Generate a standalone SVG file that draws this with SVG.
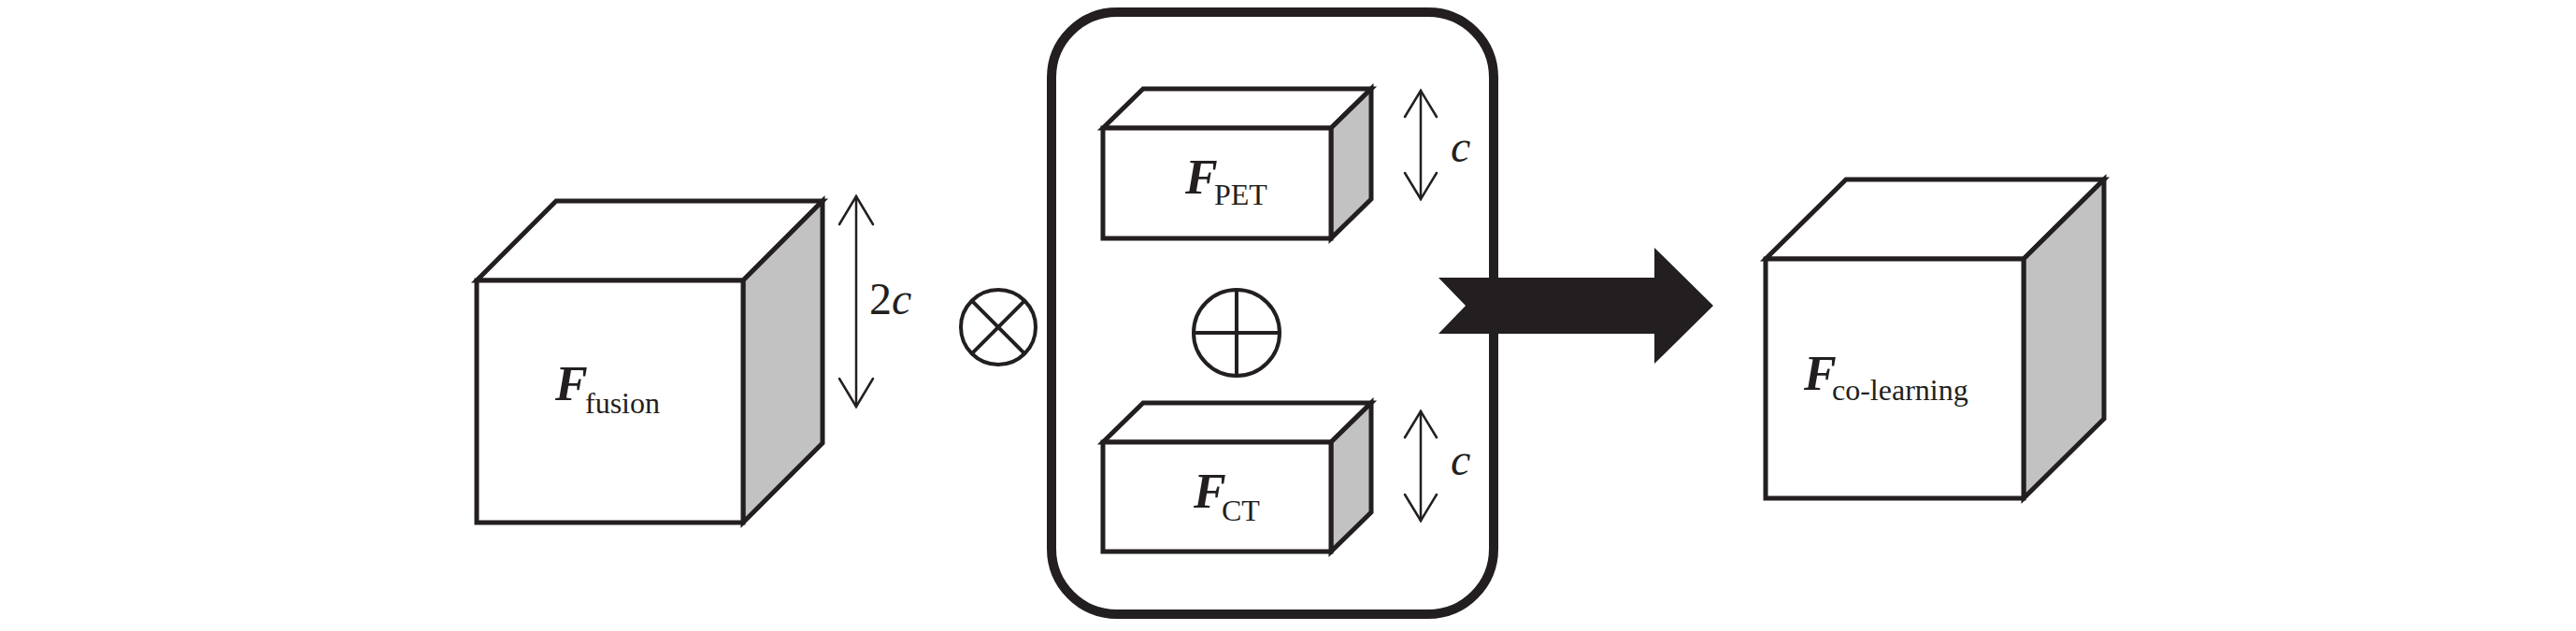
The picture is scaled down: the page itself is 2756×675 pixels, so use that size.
<svg xmlns="http://www.w3.org/2000/svg" width="2756" height="675" viewBox="0 0 2756 675">
<style>
.face{fill:#ffffff;stroke:#231f20;stroke-width:5;stroke-linejoin:miter}
.side{fill:#c2c2c2;stroke:#231f20;stroke-width:5;stroke-linejoin:miter}
.dim{fill:none;stroke:#231f20;stroke-width:2.5;stroke-linecap:round;stroke-linejoin:miter}
.op{fill:none;stroke:#231f20;stroke-width:4}
.fm{font-family:"Liberation Serif","Times New Roman",serif;font-weight:bold;font-style:italic;font-size:52px;fill:#231f20}
.sub{font-family:"Liberation Serif","Times New Roman",serif;font-size:32px;fill:#231f20}
.lab{font-family:"Liberation Serif","Times New Roman",serif;font-size:48px;fill:#231f20}
</style>
<rect width="2756" height="675" fill="#ffffff"/>

<g id="container">
<rect x="1125" y="13" width="473" height="644" rx="70" ry="70" fill="none" stroke="#231f20" stroke-width="10"/>
</g>

<g id="f-fusion">
<polygon class="face" points="510,300 595,215 880,215 795,300"/>
<polygon class="side" points="795,300 880,215 880,474 795,559"/>
<rect class="face" x="510" y="300" width="285" height="259"/>
<text class="fm" x="594" y="428">F</text>
<text class="sub" x="626" y="442">fusion</text>
</g>

<g id="dim-2c">
<line class="dim" x1="916" y1="210" x2="916" y2="435"/>
<polyline class="dim" points="898,240 916,210 934,240"/>
<polyline class="dim" points="898,405 916,435 934,405"/>
<text class="lab" x="930" y="336" font-size="50">2<tspan font-style="italic">c</tspan></text>
</g>

<g id="op-multiply">
<circle class="op" cx="1068" cy="350" r="40"/>
<line class="op" x1="1039.7" y1="321.7" x2="1096.3" y2="378.3"/>
<line class="op" x1="1096.3" y1="321.7" x2="1039.7" y2="378.3"/>
</g>

<g id="f-pet">
<polygon class="face" points="1180,137 1223,95 1467,95 1424,137"/>
<polygon class="side" points="1424,137 1467,95 1467,213 1424,255"/>
<rect class="face" x="1180" y="137" width="244" height="118"/>
<text class="fm" x="1268" y="207">F</text>
<text class="sub" x="1299" y="219">PET</text>
</g>

<g id="dim-c-pet">
<line class="dim" x1="1520" y1="97" x2="1520" y2="213"/>
<polyline class="dim" points="1503,125 1520,97 1537,125"/>
<polyline class="dim" points="1503,185 1520,213 1537,185"/>
<text class="lab" x="1552" y="173" font-style="italic">c</text>
</g>

<g id="op-add">
<circle class="op" cx="1323" cy="356" r="46"/>
<line class="op" x1="1323" y1="310" x2="1323" y2="402"/>
<line class="op" x1="1277" y1="356" x2="1369" y2="356"/>
</g>

<g id="f-ct">
<polygon class="face" points="1180,473 1223,431 1467,431 1424,473"/>
<polygon class="side" points="1424,473 1467,431 1467,548 1424,590"/>
<rect class="face" x="1180" y="473" width="244" height="117"/>
<text class="fm" x="1277" y="543">F</text>
<text class="sub" x="1307" y="557">CT</text>
</g>

<g id="dim-c-ct">
<line class="dim" x1="1520" y1="440" x2="1520" y2="557"/>
<polyline class="dim" points="1503,468 1520,440 1537,468"/>
<polyline class="dim" points="1503,529 1520,557 1537,529"/>
<text class="lab" x="1552" y="508" font-style="italic">c</text>
</g>

<g id="connectors">
<polygon points="1539,297 1770,297 1770,265 1833,327 1770,389 1770,357 1539,357 1568,327" fill="#231f20"/>
</g>

<g id="f-colearning">
<polygon class="face" points="1889,277 1975,192 2251,192 2165,277"/>
<polygon class="side" points="2165,277 2251,192 2251,448 2165,533"/>
<rect class="face" x="1889" y="277" width="276" height="256"/>
<text class="fm" x="1930" y="417">F</text>
<text class="sub" x="1960" y="428">co-learning</text>
</g>
</svg>
